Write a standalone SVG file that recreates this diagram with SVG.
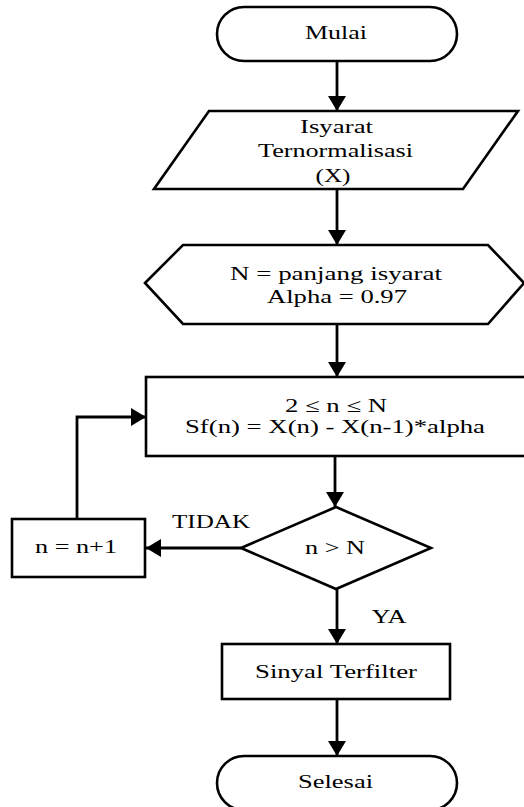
<svg xmlns="http://www.w3.org/2000/svg" width="524" height="807" viewBox="0 0 524 807">
<defs>
<style>
.s{fill:#fff;stroke:#000;stroke-width:2.6;stroke-linejoin:miter}
.c{fill:none;stroke:#000;stroke-width:2.8}
text{font-family:"Liberation Serif","Times New Roman",serif;font-size:19px;fill:#000;text-anchor:middle}
</style>
<marker id="ah" markerUnits="userSpaceOnUse" markerWidth="16" markerHeight="18" refX="15" refY="9" orient="auto">
<path d="M0,0 L15,9 L0,18 z" fill="#000"/>
</marker>
</defs>
<rect width="524" height="807" fill="#fff"/>
<g id="connectors">
<line class="c" x1="337" y1="61" x2="337" y2="111" marker-end="url(#ah)"/>
<line class="c" x1="337" y1="189" x2="337" y2="245" marker-end="url(#ah)"/>
<line class="c" x1="337" y1="324" x2="337" y2="377" marker-end="url(#ah)"/>
<line class="c" x1="335" y1="456" x2="335" y2="507" marker-end="url(#ah)"/>
<line class="c" x1="241" y1="548" x2="146" y2="548" marker-end="url(#ah)"/>
<polyline class="c" points="77,519 77,417 146,417" marker-end="url(#ah)"/>
<line class="c" x1="337" y1="588" x2="337" y2="644" marker-end="url(#ah)"/>
<line class="c" x1="337" y1="699" x2="337" y2="756" marker-end="url(#ah)"/>
<text x="211" y="528" textLength="78" lengthAdjust="spacingAndGlyphs">TIDAK</text>
<text x="389" y="623" textLength="35" lengthAdjust="spacingAndGlyphs">YA</text>
</g>
<g id="mulai">
<rect class="s" x="217" y="7" width="240" height="54" rx="27" ry="27"/>
<text x="336" y="39" textLength="62" lengthAdjust="spacingAndGlyphs">Mulai</text>
</g>
<g id="input">
<polygon class="s" points="209,111 518,111 463,189 154,189"/>
<text x="336.5" y="133" textLength="73" lengthAdjust="spacingAndGlyphs">Isyarat</text>
<text x="335.5" y="157" textLength="155" lengthAdjust="spacingAndGlyphs">Ternormalisasi</text>
<text x="333" y="182" textLength="35" lengthAdjust="spacingAndGlyphs">(X)</text>
</g>
<g id="prep">
<polygon class="s" points="145,283 183,245 488,245 524,283 488,324 183,324"/>
<text x="336" y="280" textLength="212" lengthAdjust="spacingAndGlyphs">N = panjang isyarat</text>
<text x="337" y="303" textLength="140" lengthAdjust="spacingAndGlyphs">Alpha = 0.97</text>
</g>
<g id="process">
<rect class="s" x="146" y="377" width="382" height="79"/>
<text x="336" y="412" textLength="102" lengthAdjust="spacingAndGlyphs">2 ≤ n ≤ N</text>
<text x="335" y="433" textLength="300" lengthAdjust="spacingAndGlyphs">Sf(n) = X(n) - X(n-1)*alpha</text>
</g>
<g id="decision">
<polygon class="s" points="241,548 336,507 431,548 336,589"/>
<text x="335" y="554" textLength="60" lengthAdjust="spacingAndGlyphs">n &gt; N</text>
</g>
<g id="increment">
<rect class="s" x="12" y="519" width="133" height="58"/>
<text x="76" y="553" textLength="82" lengthAdjust="spacingAndGlyphs">n = n+1</text>
</g>
<g id="output">
<rect class="s" x="222" y="644" width="228" height="55"/>
<text x="336" y="678" textLength="162" lengthAdjust="spacingAndGlyphs">Sinyal Terfilter</text>
</g>
<g id="selesai">
<rect class="s" x="217" y="756" width="240" height="54" rx="27" ry="27"/>
<text x="335.5" y="788" textLength="75" lengthAdjust="spacingAndGlyphs">Selesai</text>
</g>
</svg>
